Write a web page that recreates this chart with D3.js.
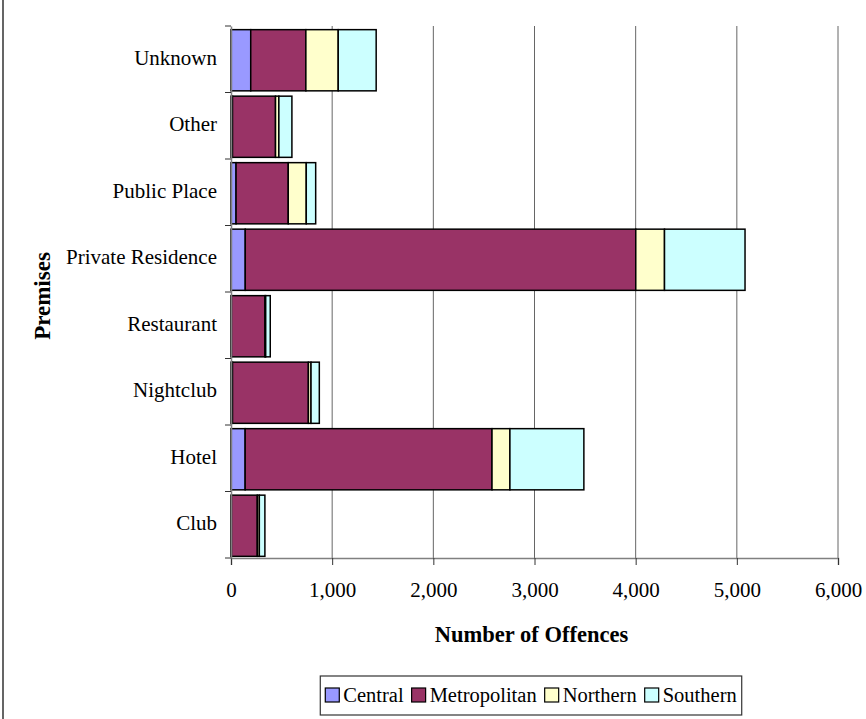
<!DOCTYPE html>
<html><head><meta charset="utf-8">
<script src="https://cdn.jsdelivr.net/npm/d3@7"></script>
<style>
html,body{margin:0;padding:0;background:#fff;}
svg{display:block;font-family:"Liberation Serif","Times New Roman",serif;}
</style></head>
<body>
<svg id="chart" width="866" height="719"></svg>
<script>
const categories = ["Club","Hotel","Nightclub","Restaurant","Private Residence","Public Place","Other","Unknown"];
const seriesNames = ["Central","Metropolitan","Northern","Southern"];
const central      = [5, 140, 15, 5, 141, 50, 15, 195];
const metropolitan = [255, 2440, 750, 330, 3860, 516, 425, 545];
const northern     = [20, 177, 26, 8, 284, 178, 33, 320];
const southern     = [55, 731, 82, 45, 796, 93, 129, 375];
const xTicks = [0,1000,2000,3000,4000,5000,6000];
const colors = ["#9999FF","#993366","#FFFFCC","#CCFFFF"];

const svg = d3.select("#chart");
const L = 231, R = 838, T = 26, B = 558;

// outer frame
svg.append("rect").attr("x",3).attr("y",-5).attr("width",900).attr("height",740)
  .attr("fill","none").attr("stroke","#333").attr("stroke-width",1.5);

const x = d3.scaleLinear().domain([0,6000]).range([L,R]);
const y = d3.scaleBand().domain(categories.slice().reverse()).range([T,B]).paddingInner(0.08).paddingOuter(0.04);
const yb = d3.scaleBand().domain(categories.slice().reverse()).range([T,B]);

// gridlines
svg.append("g").selectAll("line").data(xTicks.slice(1)).join("line")
  .attr("x1",d=>x(d)).attr("x2",d=>x(d)).attr("y1",T).attr("y2",B)
  .attr("stroke","#666").attr("stroke-width",1);

// stacked data
const table = categories.map((c,i)=>({cat:c, Central:central[i], Metropolitan:metropolitan[i], Northern:northern[i], Southern:southern[i]}));
const stacked = d3.stack().keys(seriesNames)(table);

svg.append("g").selectAll("g").data(stacked).join("g")
  .attr("fill",(d,i)=>colors[i])
  .selectAll("rect").data(d=>d).join("rect")
  .attr("x",d=>x(d[0])).attr("width",d=>Math.max(0,x(d[1])-x(d[0])))
  .attr("y",d=>y(d.data.cat)+1).attr("height",y.bandwidth())
  .attr("stroke","#000").attr("stroke-width",1.5);

// axes
const xAxis = d3.axisBottom(x).tickValues(xTicks).tickSize(7).tickPadding(17).tickFormat(d3.format(","));
const gx = svg.append("g").attr("transform",`translate(0,${B})`).call(xAxis);
gx.select(".domain").attr("stroke","#808080").attr("stroke-width",1.5);
gx.selectAll(".tick line").attr("stroke","#333");
gx.selectAll("text").attr("font-size",21).attr("fill","#000").attr("font-family","Liberation Serif");

const yAxis = d3.axisLeft(yb).tickSize(0).tickPadding(14);
const gy = svg.append("g").attr("transform",`translate(${L},0)`).call(yAxis);
gy.select(".domain").attr("stroke","#808080").attr("stroke-width",1.5);
gy.selectAll("text").attr("font-size",21).attr("fill","#000").attr("font-family","Liberation Serif").attr("dy","0.25em");
// boundary ticks between categories
svg.append("g").selectAll("line").data(categories).join("line")
  .attr("x1",L-6).attr("x2",L).attr("y1",d=>yb(d)).attr("y2",d=>yb(d))
  .attr("stroke","#333").attr("stroke-width",1);
svg.append("line").attr("x1",L-6).attr("x2",L).attr("y1",B).attr("y2",B).attr("stroke","#333");

// axis titles
svg.append("text").attr("x",(L+R)/2-3).attr("y",642).attr("text-anchor","middle")
  .attr("font-size",22.5).attr("font-weight","bold").text("Number of Offences");
svg.append("text").attr("transform",`translate(50,${(T+B)/2+4}) rotate(-90)`).attr("text-anchor","middle")
  .attr("font-size",23).attr("font-weight","bold").text("Premises");

// legend
const lg = svg.append("g");
let cx = 0;
seriesNames.forEach((s,i)=>{
  const g = lg.append("g").attr("transform",`translate(${cx},0)`);
  g.append("rect").attr("x",0).attr("y",-7).attr("width",14).attr("height",14)
    .attr("fill",colors[i]).attr("stroke","#000").attr("stroke-width",1.2);
  const t = g.append("text").attr("x",18).attr("y",7).attr("font-size",20.5).text(s);
  const w = t.node().getComputedTextLength();
  cx += 18 + w + 8;
});
const lw = cx - 8;
const lx = 531 - lw/2;
const ly = 695;
lg.attr("transform",`translate(${lx},${ly})`);
svg.insert("rect", () => lg.node()).attr("x",lx-5).attr("y",676).attr("width",lw+10).attr("height",39)
  .attr("fill","#fff").attr("stroke","#333").attr("stroke-width",1.2);
</script>
</body></html>
